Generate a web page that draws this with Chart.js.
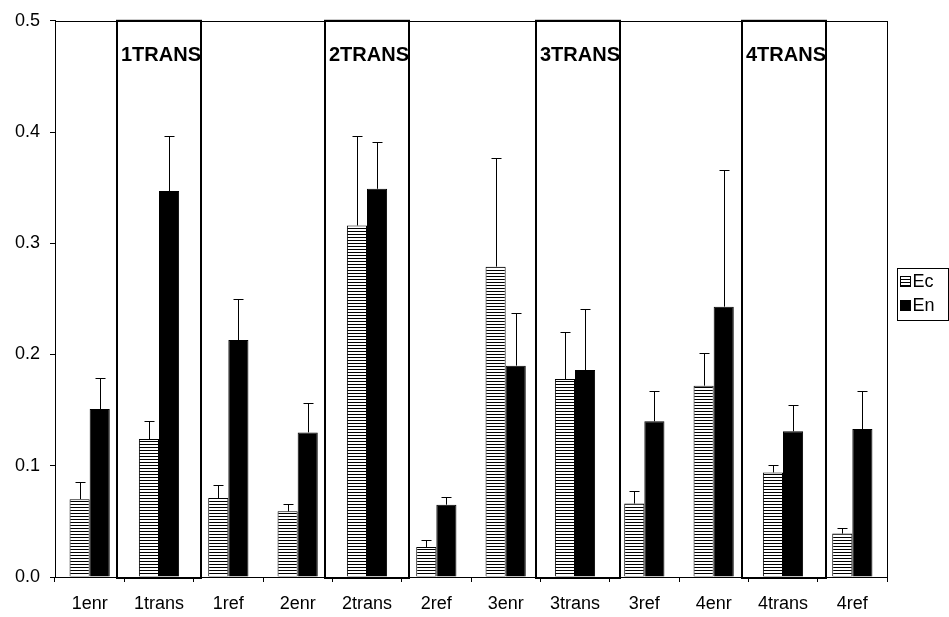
<!DOCTYPE html>
<html>
<head>
<meta charset="utf-8">
<script src="https://cdn.jsdelivr.net/npm/chart.js@4.4.1/dist/chart.umd.min.js"></script>
<style>
    html, body { margin: 0; padding: 0; background: #fff; }
    #wrap { width: 949px; height: 617px; }
</style>
</head>
<body>
<div id="wrap"><canvas id="chart" width="949" height="617"></canvas></div>
<script>
const categories = ['1enr', '1trans', '1ref', '2enr', '2trans', '2ref', '3enr', '3trans', '3ref', '4enr', '4trans', '4ref'];
const ecValues = [0.070, 0.124, 0.071, 0.059, 0.316, 0.027, 0.279, 0.178, 0.066, 0.172, 0.094, 0.039];
const ecErrors = [0.015, 0.016, 0.012, 0.007, 0.080, 0.006, 0.098, 0.042, 0.011, 0.029, 0.007, 0.005];
const enValues = [0.151, 0.347, 0.213, 0.130, 0.349, 0.065, 0.190, 0.186, 0.140, 0.243, 0.131, 0.133];
const enErrors = [0.028, 0.049, 0.037, 0.026, 0.042, 0.007, 0.047, 0.055, 0.027, 0.123, 0.024, 0.034];
const yTicks = [0, 0.1, 0.2, 0.3, 0.4, 0.5];
const boxCategories = ['1trans', '2trans', '3trans', '4trans'];
const boxLabels = ['1TRANS', '2TRANS', '3TRANS', '4TRANS'];

const FONT = 'Liberation Sans, Arial, sans-serif';

function createChart() {
    const ctx = document.getElementById('chart').getContext('2d');

    // horizontal stripes like the Excel fill
    const tile = document.createElement('canvas');
    tile.width = 4;
    tile.height = 3;
    const t = tile.getContext('2d');
    t.fillStyle = '#fff';
    t.fillRect(0, 0, 4, 3);
    t.fillStyle = '#000';
    t.fillRect(0, 0, 4, 1);
    const stripes = ctx.createPattern(tile, 'repeat');

    const errorBars = {
        id: 'errorBars',
        afterDatasetsDraw(chart) {
            const c = chart.ctx;
            const y = chart.scales.y;
            const errs = [ecErrors, enErrors];
            c.save();
            c.strokeStyle = '#000';
            c.lineWidth = 1;
            chart.data.datasets.forEach((ds, di) => {
                chart.getDatasetMeta(di).data.forEach((bar, i) => {
                    const top = Math.round(y.getPixelForValue(ds.data[i] + errs[di][i])) + 0.5;
                    const x = Math.round(bar.x) + 0.5;
                    c.beginPath();
                    c.moveTo(x, bar.y);
                    c.lineTo(x, top);
                    c.moveTo(x - 5, top);
                    c.lineTo(x + 5, top);
                    c.stroke();
                });
            });
            c.restore();
        }
    };

    const frame = {
        id: 'frame',
        afterDatasetsDraw(chart) {
            const c = chart.ctx;
            const a = chart.chartArea;
            const x = chart.scales.x;
            const y = chart.scales.y;
            const step = (a.right - a.left) / categories.length;
            const boxShift = [0, 0, 3, 1]; // the boxes were placed by hand
            c.save();
            c.strokeStyle = '#000';
            c.lineWidth = 1;
            c.strokeRect(Math.round(a.left) + 0.5, Math.round(a.top) + 0.5, Math.round(a.right - a.left), Math.round(a.bottom - a.top));

            // boxes round the trans groups
            c.lineWidth = 2;
            c.font = 'bold 20px ' + FONT;
            c.fillStyle = '#000';
            c.textBaseline = 'middle';
            boxCategories.forEach((cat, k) => {
                const cx = x.getPixelForValue(categories.indexOf(cat)) + boxShift[k];
                const left = Math.round(cx - step * 0.61);
                const right = Math.round(cx + step * 0.61);
                const top = y.getPixelForValue(0.5);
                const bottom = y.getPixelForValue(0);
                c.strokeRect(left, top, right - left, bottom - top + 1);
                c.fillText(boxLabels[k], left + 4, top + 35);
            });

            // legend
            const lx = 897.5, ly = 268.5;
            c.lineWidth = 1;
            c.strokeRect(lx, ly, 51, 52);
            c.font = '18px ' + FONT;
            chart.data.datasets.forEach((ds, i) => {
                const sy = ly + 8 + i * 24;
                c.fillStyle = ds.backgroundColor;
                c.fillRect(lx + 3, sy, 10, 10);
                c.strokeRect(lx + 3, sy, 10, 10);
                c.fillStyle = '#000';
                c.fillText(ds.label, lx + 15, sy + 6);
            });
            c.restore();
        }
    };

    new Chart(ctx, {
        type: 'bar',
        data: {
            labels: categories,
            datasets: [{
                label: 'Ec',
                data: ecValues,
                backgroundColor: stripes,
                borderColor: '#000',
                borderWidth: 1
            }, {
                label: 'En',
                data: enValues,
                backgroundColor: '#000',
                borderColor: '#000',
                borderWidth: 1
            }]
        },
        options: {
            responsive: false,
            animation: false,
            devicePixelRatio: 1,
            layout: {
                padding: { top: 17, right: 62, left: 0, bottom: 0 }
            },
            datasets: {
                bar: {
                    categoryPercentage: 0.58,
                    barPercentage: 1.0
                }
            },
            scales: {
                x: {
                    grid: {
                        drawOnChartArea: false,
                        tickLength: 5,
                        color: '#000',
                        offset: true
                    },
                    border: { color: '#000', width: 1 },
                    ticks: {
                        padding: 11,
                        maxRotation: 0,
                        font: { size: 18, family: FONT },
                        color: '#000'
                    },
                    afterFit: function(scale) { scale.height = 40; }
                },
                y: {
                    min: 0,
                    max: 0.5,
                    grid: {
                        drawOnChartArea: false,
                        tickLength: 5,
                        color: '#000'
                    },
                    border: { color: '#000', width: 1 },
                    afterBuildTicks: function(scale) {
                        scale.ticks = yTicks.map(v => ({ value: v }));
                    },
                    ticks: {
                        padding: 10,
                        callback: function(value) { return value.toFixed(1); },
                        font: { size: 18, family: FONT },
                        color: '#000'
                    },
                    afterFit: function(scale) { scale.width = 55; }
                }
            },
            plugins: {
                legend: { display: false },
                title: { display: false },
                tooltip: { enabled: false }
            }
        },
        plugins: [errorBars, frame]
    });
}

createChart();
</script>
</body>
</html>
